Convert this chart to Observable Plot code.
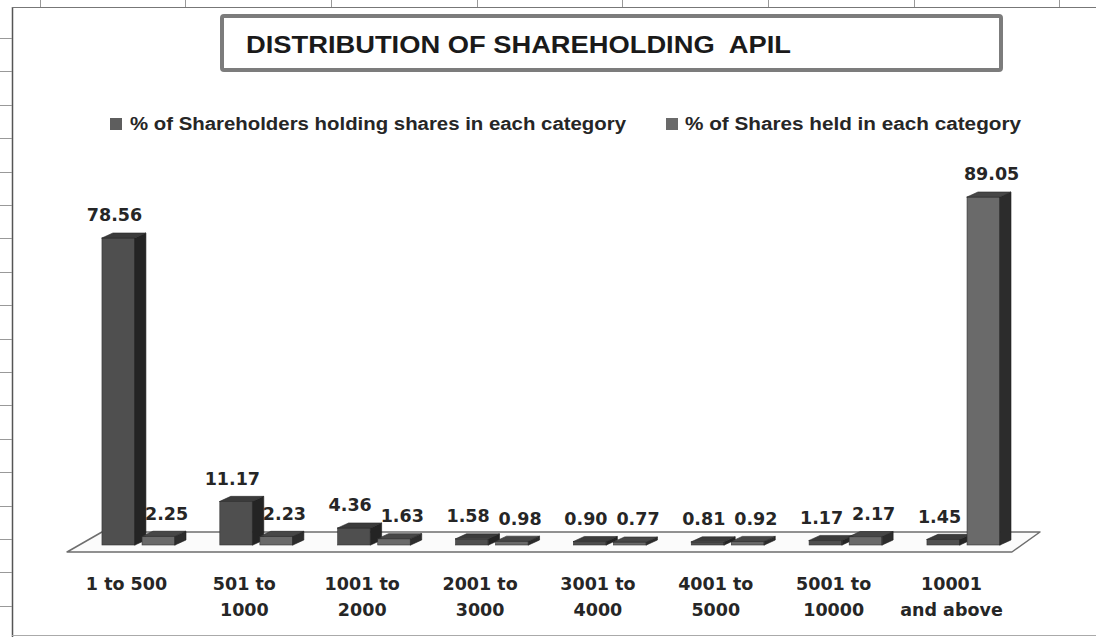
<!DOCTYPE html>
<html>
<head>
<meta charset="utf-8">
<script src="https://cdn.jsdelivr.net/npm/d3@7"></script>
<script src="https://cdn.jsdelivr.net/npm/@observablehq/plot@0.6"></script>
<style>
  html, body { margin: 0; padding: 0; background: #fff; }
  #wrap { position: relative; width: 1096px; height: 637px; overflow: hidden; background: #fff; }
  #wrap > svg { position: absolute; left: 0; top: 0; }
  #overlay { pointer-events: none; }
</style>
</head>
<body>
<div id="wrap"></div>
<script>
// ---- data ----
const categories = ["1 to 500", "501 to\n1000", "1001 to\n2000", "2001 to\n3000",
                    "3001 to\n4000", "4001 to\n5000", "5001 to\n10000", "10001\nand above"];
const shareholdersPct = [78.56, 11.17, 4.36, 1.58, 0.90, 0.81, 1.17, 1.45];
const sharesPct = [2.25, 2.23, 1.63, 0.98, 0.77, 0.92, 2.17, 89.05];
const seriesNames = ["% of Shareholders holding shares in each category", "% of Shares held in each category"];
const titleText = "DISTRIBUTION OF SHAREHOLDING  APIL";

// ---- styling / geometry constants ----
const seriesValues = [shareholdersPct, sharesPct];
const frontColors = ["#4f4f4f", "#6a6a6a"];
const sideColors = ["#242424", "#2c2c2c"];
const topColors = ["#3b3b3b", "#474747"];
const barOffset = [-0.204, 0.136];   // left of front face, relative to category position
const barWidth = 0.28;
const depthX = 0.093;                // 3D depth in x units
const depthY = 1.28;                 // 3D depth in y units
const labelOffset = [-0.102, 0.34];

const n = categories.length;
const bars = [];
seriesValues.forEach((vals, s) => vals.forEach((v, i) => {
  const xl = i + barOffset[s], xr = xl + barWidth;
  bars.push({s, i, v, xl, xr, id: s + "-" + i});
}));
const side = bars.flatMap(b => [
  {s: b.s, id: b.id, x: b.xr, y1: 0, y2: b.v},
  {s: b.s, id: b.id, x: b.xr + depthX, y1: depthY, y2: b.v + depthY}
]);
const tops = bars.flatMap(b => [
  {s: b.s, id: b.id, y: b.v, x1: b.xl, x2: b.xr},
  {s: b.s, id: b.id, y: b.v + depthY, x1: b.xl + depthX, x2: b.xr + depthX}
]);
const floor = [
  {y: -1.79, x1: -0.5, x2: n - 1 + 0.517},
  {y: 3.33, x1: -0.204, x2: n - 1 + 0.755}
];

const marks = [
  Plot.areaX(floor, {y: "y", x1: "x1", x2: "x2", fill: "#fbfbfb", stroke: "#6e6e6e", strokeWidth: 1.5})
];
[0, 1].forEach(s => {
  const bs = bars.filter(b => b.s === s);
  marks.push(
    Plot.rect(bs, {x1: "xl", x2: "xr", y1: 0, y2: "v", fill: frontColors[s], stroke: "#333", strokeWidth: 0.6}),
    Plot.areaY(side.filter(d => d.s === s), {x: "x", y1: "y1", y2: "y2", z: "id", fill: sideColors[s], stroke: "#1c1c1c", strokeWidth: 0.6}),
    Plot.areaX(tops.filter(d => d.s === s), {y: "y", x1: "x1", x2: "x2", z: "id", fill: topColors[s], stroke: "#2a2a2a", strokeWidth: 0.6})
  );
});
[0, 1].forEach(s => {
  marks.push(Plot.text(bars.filter(b => b.s === s), {
    x: d => d.i + labelOffset[s], y: "v", dy: -17, lineAnchor: "bottom",
    text: d => d.v.toFixed(2), fontSize: 17.5, fontWeight: "bold", fill: "#262626"
  }));
});
marks.push(Plot.axisX({
  ticks: d3.range(n), tickFormat: i => categories[i], tickSize: 0, tickPadding: 26,
  fontSize: 17.5, fontWeight: "bold", lineHeight: 1.5, fill: "#262626"
}));

const chart = Plot.plot({
  width: 1096, height: 637,
  marginTop: 154.2, marginBottom: 92, marginLeft: 126, marginRight: 145,
  x: {type: "linear", domain: [0, n - 1], axis: null},
  y: {domain: [0, 100], axis: null},
  style: {background: "transparent", fontFamily: "'DejaVu Sans', Verdana, sans-serif", fontSize: "17.5px", color: "#262626"},
  marks
});
const wrap = document.getElementById("wrap");
wrap.appendChild(chart);

// ---- overlay: sheet frame, title box, legend ----
const ov = d3.create("svg").attr("id", "overlay").attr("width", 1096).attr("height", 637);
ov.append("line").attr("x1", 12.5).attr("x2", 12.5).attr("y1", 7).attr("y2", 637).attr("stroke", "#555").attr("stroke-width", 1.5);
ov.append("line").attr("x1", 12).attr("x2", 1096).attr("y1", 7.5).attr("y2", 7.5).attr("stroke", "#777").attr("stroke-width", 1.2);
ov.append("line").attr("x1", 12).attr("x2", 1096).attr("y1", 635.5).attr("y2", 635.5).attr("stroke", "#aaa").attr("stroke-width", 1);
for (let k = 0; k < 18; k++) {
  const y = Math.round(38 + 33.4 * k) + 0.5;
  ov.append("line").attr("x1", 0).attr("x2", 12).attr("y1", y).attr("y2", y).attr("stroke", "#999");
}
[40, 185, 331, 477, 622, 768, 914, 1059].forEach(x => {
  ov.append("line").attr("x1", x + 0.5).attr("x2", x + 0.5).attr("y1", 0).attr("y2", 7).attr("stroke", "#999");
});
ov.append("rect").attr("x", 222).attr("y", 16).attr("width", 779).attr("height", 54)
  .attr("fill", "#fff").attr("stroke", "#7c7c7c").attr("stroke-width", 4).attr("rx", 2);
ov.append("text").attr("x", 246).attr("y", 53).attr("font-family", "'Liberation Sans', Arial, sans-serif")
  .attr("font-weight", "bold").attr("font-size", 24).attr("fill", "#1a1a1a")
  .attr("textLength", 545).attr("lengthAdjust", "spacingAndGlyphs")
  .style("white-space", "pre").text(titleText);
const legend = [
  {sq: 110, tx: 130, len: 496, color: "#5e5e5e"},
  {sq: 666, tx: 685, len: 336, color: "#6a6a6a"}
];
legend.forEach((L, s) => {
  ov.append("rect").attr("x", L.sq).attr("y", 118).attr("width", 12).attr("height", 12).attr("fill", L.color);
  ov.append("text").attr("x", L.tx).attr("y", 130).attr("font-family", "'Liberation Sans', Arial, sans-serif")
    .attr("font-weight", "bold").attr("font-size", 17.5).attr("fill", "#262626")
    .attr("textLength", L.len).attr("lengthAdjust", "spacingAndGlyphs")
    .text(seriesNames[s]);
});
wrap.appendChild(ov.node());
</script>
</body>
</html>
